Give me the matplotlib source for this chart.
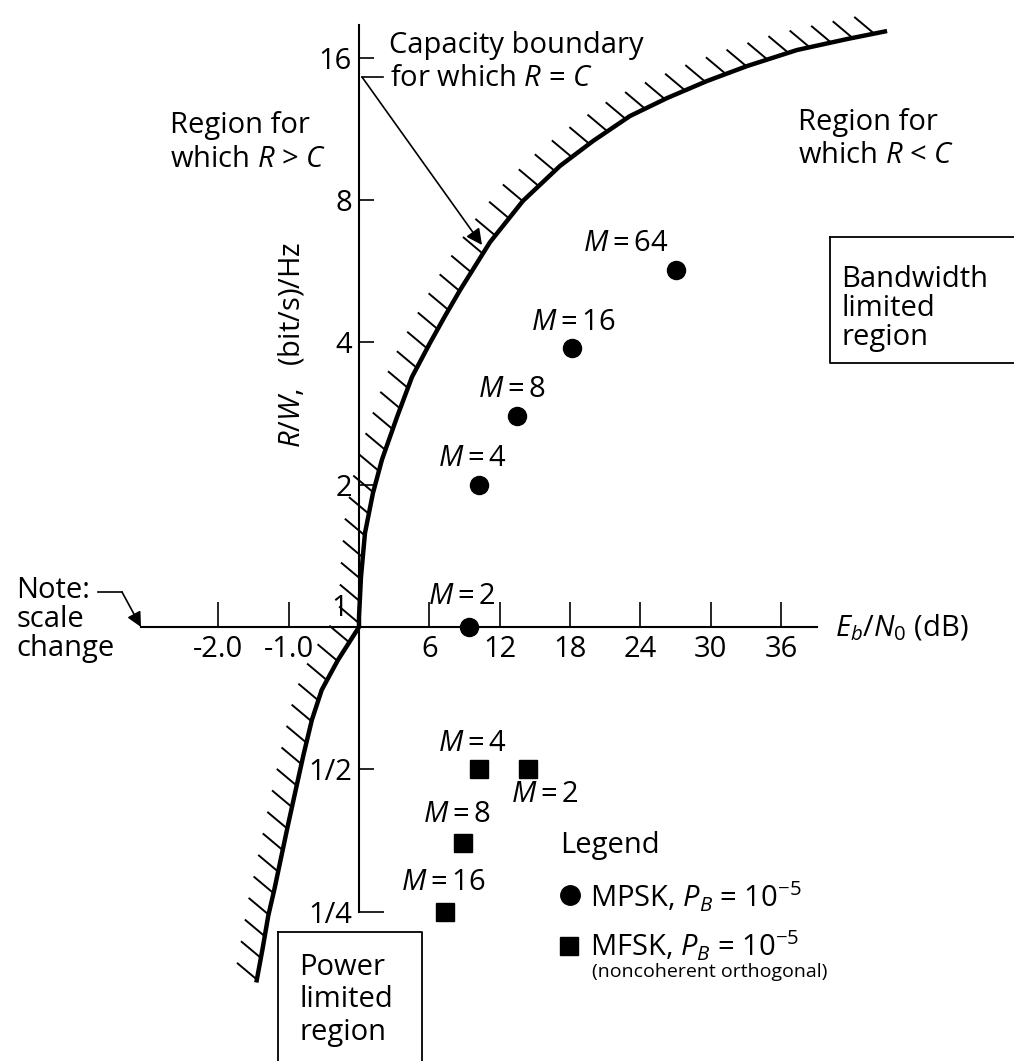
import numpy as np
import matplotlib
matplotlib.use('Agg')
import matplotlib.pyplot as plt
from matplotlib.lines import Line2D

plt.rcParams['font.family'] = ['Open Sans', 'DejaVu Sans']
plt.rcParams['mathtext.fontset'] = 'custom'
plt.rcParams['mathtext.rm'] = 'Open Sans'
plt.rcParams['mathtext.it'] = 'Open Sans:italic'
plt.rcParams['mathtext.bf'] = 'Open Sans:bold'

# capacity boundary R = C (Eb/N0 in dB, R/W)
bound_ebno = [-1.46, -1.37, -1.29, -1.20, -1.11, -1.01, -0.90, -0.79, -0.67, -0.53,
              -0.30, 0.0, 0.0, 0.17, 0.51, 1.19, 1.96, 3.24, 4.52, 6.06, 7.34,
              8.62, 9.90, 11.18, 13.99, 17.15, 19.97, 23.12, 26.28, 29.69, 33.11,
              37.37, 41.64, 45.05]
bound_rw = [0.177, 0.209, 0.245, 0.280, 0.324, 0.381, 0.452, 0.536, 0.636, 0.736,
            0.851, 1.0, 1.05, 1.276, 1.58, 1.92, 2.26, 2.78, 3.38, 3.99, 4.55,
            5.16, 5.80, 6.52, 7.97, 9.45, 10.67, 12.05, 13.15, 14.29, 15.37,
            16.62, 17.53, 18.23]

# MPSK, PB = 1e-5
mpsk_M = [2, 4, 8, 16, 64]
mpsk_ebno = [9.4, 10.2, 13.5, 18.2, 27.0]
mpsk_rw = [1.0, 2.0, 2.8, 3.9, 5.7]

# MFSK (noncoherent orthogonal), PB = 1e-5
mfsk_M = [4, 2, 8, 16]
mfsk_ebno = [10.2, 14.4, 8.9, 7.3]
mfsk_rw = [0.5, 0.5, 0.35, 0.25]

xticks = [-2, -1, 6, 12, 18, 24, 30, 36]
xtick_labels = ['-2.0', '-1.0', '6', '12', '18', '24', '30', '36']
yticks = [0.25, 0.5, 2, 4, 8, 16]
ytick_labels = ['1/4', '1/2', '2', '4', '8', '16']

W, H = 1014, 1061
FS = 21


def fwd(x):
    # scale change: 1 dB below zero takes as much room as 6 dB above
    x = np.asarray(x, dtype=float)
    return np.where(x < 0, 6 * x, x)


def inv(u):
    u = np.asarray(u, dtype=float)
    return np.where(u < 0, u / 6, u)


def px(x, y):
    return x / W, 1 - y / H


fig = plt.figure(figsize=(W / 100, H / 100), dpi=100)
ax = fig.add_axes([0, 0, 1, 1])
ax.patch.set_visible(False)
ax.set_xscale('function', functions=(fwd, inv))
ax.set_yscale('log', base=2)

ppu = (781 - 359) / 36.0     # pixels per positive dB
ppo = 142.3                  # pixels per octave of R/W
ax.set_xlim(-359 / ppu / 6, (W - 359) / ppu)
ax.set_ylim(2 ** (-(H - 627) / ppo), 2 ** (627 / ppo))

for s in ['top', 'right']:
    ax.spines[s].set_visible(False)
ax.spines['left'].set_position(('data', 0))
ax.spines['bottom'].set_position(('data', 1))
ax.spines['left'].set_bounds(0.25, 18.8)
ax.spines['bottom'].set_bounds(-3.1, 39.1)
for s in ['left', 'bottom']:
    ax.spines[s].set_linewidth(1.5)

ax.set_xticks(xticks, xtick_labels)
ax.set_yticks(yticks, ytick_labels)
ax.minorticks_off()
ax.tick_params(axis='x', direction='in', length=18, width=1.2, pad=6, labelsize=FS)
ax.tick_params(axis='y', direction='in', length=11, width=1.2, pad=5, labelsize=FS)
ax.yaxis.get_major_ticks()[0].tick1line.set_markersize(18)

# capacity boundary with hatching on the R > C side
ax.plot(bound_ebno, bound_rw, color='black', lw=3.2, solid_capstyle='butt',
        solid_joinstyle='round', clip_on=False)
pts = ax.transData.transform(np.column_stack([bound_ebno, bound_rw]))
seg = np.hypot(np.diff(pts[:, 0]), np.diff(pts[:, 1]))
arc = np.concatenate([[0], np.cumsum(seg)])
spots = np.arange(3, arc[-1], 22)
hx = np.interp(spots, arc, pts[:, 0])
hy = np.interp(spots, arc, pts[:, 1])
ang = np.deg2rad(40)
for x0, y0 in zip(hx, hy):
    fig.add_artist(Line2D([x0, x0 - 25 * np.cos(ang)], [y0, y0 + 25 * np.sin(ang)],
                          transform=None, color='black', lw=1.4))

ax.plot(mpsk_ebno, mpsk_rw, 'o', color='black', ms=13, clip_on=False)
ax.plot(mfsk_ebno, mfsk_rw, 's', color='black', ms=13, clip_on=False)

mpsk_off = [(-7, 30), (-6, 26), (-5, 26), (1, 25), (-50, 26)]
mfsk_off = [(-6, 26), (17, -25), (-6, 28), (-1, 29)]
for m, x, y, o in zip(mpsk_M, mpsk_ebno, mpsk_rw, mpsk_off):
    ax.annotate(f'$M$\u2009=\u2009{m}', (x, y), xytext=o,
                textcoords='offset pixels', ha='center', va='center', fontsize=FS)
for m, x, y, o in zip(mfsk_M, mfsk_ebno, mfsk_rw, mfsk_off):
    ax.annotate(f'$M$\u2009=\u2009{m}', (x, y), xytext=o,
                textcoords='offset pixels', ha='center', va='center', fontsize=FS)


# texts
def txt(x, y, s, **kw):
    kw.setdefault('fontsize', FS)
    kw.setdefault('ha', 'left')
    kw.setdefault('va', 'baseline')
    fig.text(*px(x, y), s, **kw)


txt(389, 53, 'Capacity boundary')
txt(390, 86, 'for which $R$ = $C$')
txt(170, 133, 'Region for')
txt(170, 167, 'which $R$ > $C$')
txt(798, 130, 'Region for')
txt(798, 163, 'which $R$ < $C$')
txt(841, 287, 'Bandwidth')
txt(841, 316, 'limited')
txt(841, 345, 'region')
txt(299, 975, 'Power')
txt(299, 1007, 'limited')
txt(299, 1040, 'region')
txt(16, 598, 'Note:')
txt(16, 627, 'scale')
txt(16, 656, 'change')
txt(348, 608, '1', ha='right', va='center')
txt(835, 628, '$E_b/N_0$ (dB)', va='center')
txt(292, 345, '$R/W$,   (bit/s)/Hz', ha='center', va='center', rotation=90)

txt(560, 853, 'Legend')
txt(590, 907, 'MPSK, $P_B$ = 10$^{-5}$')
txt(590, 956, 'MFSK, $P_B$ = 10$^{-5}$')
txt(592, 977, '(noncoherent orthogonal)', fontsize=14)
fig.add_artist(Line2D([px(570, 0)[0]], [px(0, 895)[1]], marker='o', ms=14, color='black',
                      transform=fig.transFigure))
fig.add_artist(Line2D([px(569, 0)[0]], [px(0, 946)[1]], marker='s', ms=13, color='black',
                      transform=fig.transFigure))

# boxes
for (x0, y0, x1, y1) in [(830, 237, 1020, 363), (278, 932, 422, 1070)]:
    fig.add_artist(Line2D([px(x0, 0)[0], px(x1, 0)[0], px(x1, 0)[0], px(x0, 0)[0], px(x0, 0)[0]],
                          [px(0, y0)[1], px(0, y0)[1], px(0, y1)[1], px(0, y1)[1], px(0, y0)[1]],
                          transform=fig.transFigure, color='black', lw=1.3))

# leaders
fig.add_artist(Line2D([px(383, 0)[0], px(362, 0)[0]], [px(0, 77)[1], px(0, 77)[1]],
                      transform=fig.transFigure, color='black', lw=1.2))
ax.annotate('', xy=px(482, 245), xytext=px(362, 77), xycoords='figure fraction',
            textcoords='figure fraction',
            arrowprops=dict(arrowstyle='-|>', lw=1.2, color='black', mutation_scale=24,
                            shrinkA=0, shrinkB=0))
fig.add_artist(Line2D([px(98, 0)[0], px(122, 0)[0]], [px(0, 592)[1], px(0, 592)[1]],
                      transform=fig.transFigure, color='black', lw=1.2))
ax.annotate('', xy=px(141, 627), xytext=px(122, 592), xycoords='figure fraction',
            textcoords='figure fraction',
            arrowprops=dict(arrowstyle='-|>', lw=1.2, color='black', mutation_scale=22,
                            shrinkA=0, shrinkB=0))

fig.savefig('out.png', dpi=100)
